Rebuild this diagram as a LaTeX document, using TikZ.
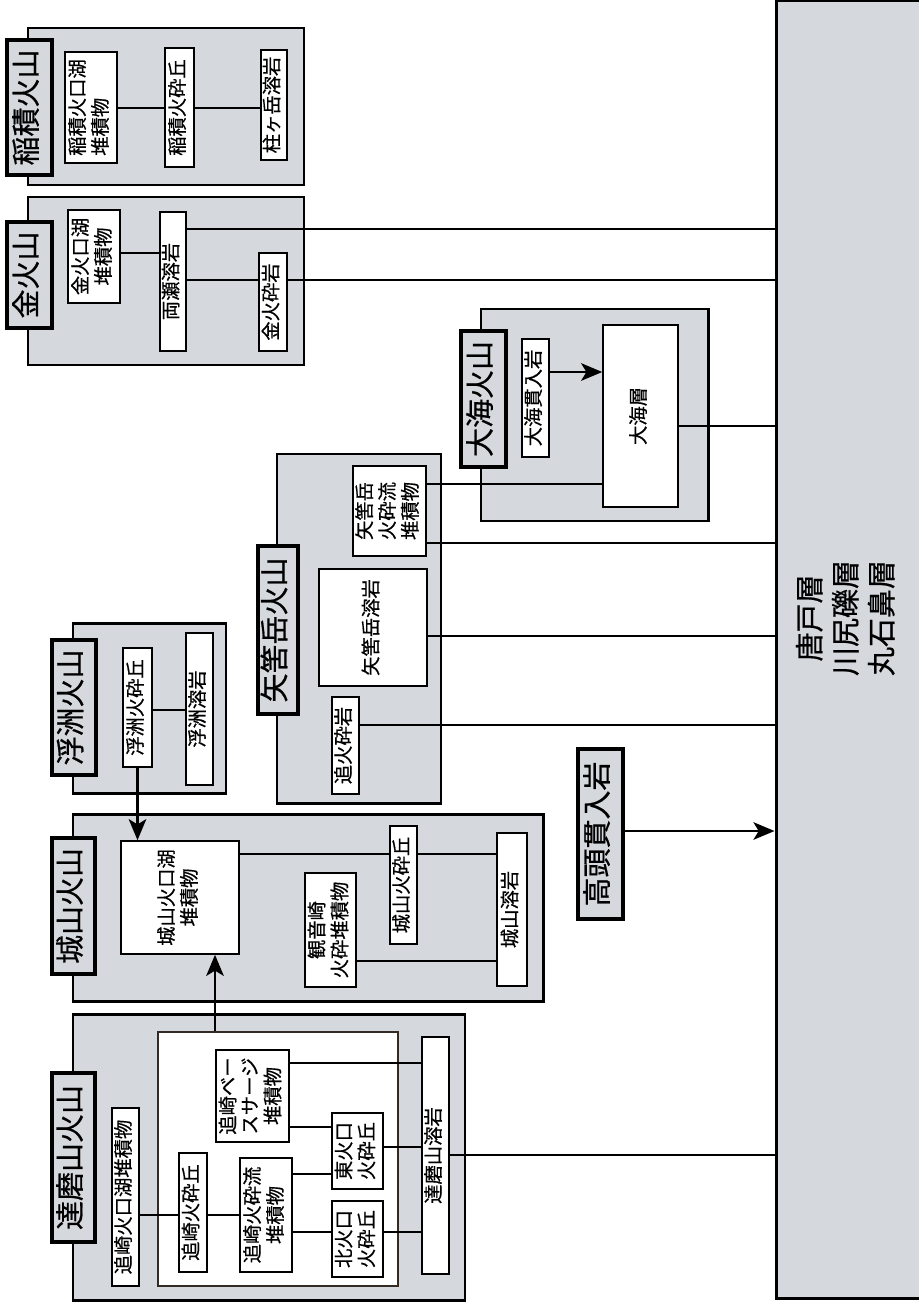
\documentclass[tikz,border=0pt]{standalone}
\usepackage{fontspec}
\setmainfont{Noto Sans CJK JP}[FakeBold=0.6]
\usetikzlibrary{arrows.meta}
\definecolor{volgray}{RGB}{213,216,221}
\definecolor{innerline}{RGB}{52,42,36}
\newcommand{\vt}[2][c]{\rotatebox{90}{\begin{tabular}{@{}#1@{}}#2\end{tabular}}}

\begin{document}
\begin{tikzpicture}[x=0.02cm, y=-0.02cm,
    sz/.style 2 args={minimum width=#1*0.02cm, minimum height=#2*0.02cm},
    volbox/.style={draw, line width=1.7pt, fill=volgray, inner sep=0pt},
    volname/.style={draw, line width=2pt, fill=volgray, inner sep=0pt,
        font=\fontsize{16.5}{20}\selectfont},
    unit/.style={draw, line width=0.9pt, fill=white, inner sep=0pt,
        font=\fontsize{11}{12.5}\selectfont},
    groupbox/.style={draw=innerline, line width=1.3pt, fill=white, inner sep=0pt},
    basebox/.style={draw, line width=1.7pt, fill=volgray, inner sep=0pt},
    link/.style={line width=1.3pt},
    arr/.style={link, -{Stealth[length=12pt, width=10pt, inset=3pt]}}
  ]
  \useasboundingbox (0,0) rectangle (919,1308);
  \node[basebox, sz={164}{1297}] (base) at (858,649.5) {};
  \node[font=\fontsize{16.5}{20.5}\selectfont] (baseText) at (849,618)
  {\vt{唐戸層\\川尻礫層\\丸石鼻層}};
  \node[volbox, sz={276}{157}] (inaO) at (166,106.5) {};
  \node[volname, sz={45}{135}] (inaL) at (29.5,107.5) {\vt{稲積火山}};
  \node[unit, sz={52}{111}] (inaKo) at (91,107.5) {\vt[l]{稲積火口湖\\堆積物}};
  \node[unit, sz={29}{119}] (inaSc) at (179.5,107.5) {\vt{稲積火砕丘}};
  \node[unit, sz={26}{110}] (hashira) at (274,105) {\vt{柱ヶ岳溶岩}};
  \draw[link] (inaKo.east |- 0,108) -- (inaSc.west |- 0,108);
  \draw[link] (inaSc.east |- 0,108) -- (hashira.west |- 0,108);
  \node[volbox, sz={276}{168}] (kinO) at (166,281) {};
  \node[volname, sz={45}{106}] (kinL) at (29.5,275) {\vt{金火山}};
  \node[unit, sz={52}{93}] (kinKo) at (94,256.5) {\vt{金火口湖\\堆積物}};
  \node[unit, sz={26}{139}] (ryose) at (173,281.5) {\vt{両瀬溶岩}};
  \node[unit, sz={28}{98}] (kinSg) at (273,302) {\vt{金火砕岩}};
  \draw[link] (kinKo.east |- 0,253) -- (ryose.west |- 0,253);
  \draw[link] (ryose.east |- 0,229) -- (base.west |- 0,229);
  \draw[link] (ryose.east |- 0,280) -- (kinSg.west |- 0,280);
  \draw[link] (kinSg.east |- 0,280) -- (base.west |- 0,280);
  \node[volbox, sz={227}{212}] (omiO) at (594.5,415) {};
  \node[volname, sz={45}{136}] (omiL) at (483.5,399) {\vt{大海火山}};
  \node[unit, sz={27}{118}] (omiKan) at (535.5,398) {\vt{大海貫入岩}};
  \node[unit, sz={75}{182}] (omiSo) at (640.5,416) {\vt{大海層}};
  \draw[arr] (omiKan.east |- 0,372) -- (omiSo.west |- 0,372);
  \draw[link] (omiSo.east |- 0,426) -- (base.west |- 0,426);
  \node[volbox, sz={164}{349}] (yaO) at (359,628.5) {};
  \node[volname, sz={40}{168}] (yaL) at (278,630) {\vt{矢筈岳火山}};
  \node[unit, sz={73}{90}] (yaPf) at (389.5,511) {\vt{矢筈岳\\火砕流\\堆積物}};
  \node[unit, sz={108}{117}] (yaLava) at (373,627.5) {\vt{矢筈岳溶岩}};
  \node[unit, sz={27}{97}] (oiSg) at (345.5,745.5) {\vt{追火砕岩}};
  \draw[link] (yaPf.east |- 0,484) -- (omiSo.west |- 0,484);
  \draw[link] (yaPf.east |- 0,543) -- (base.west |- 0,543);
  \draw[link] (yaLava.east |- 0,636) -- (base.west |- 0,636);
  \draw[link] (oiSg.east |- 0,725) -- (base.west |- 0,725);
  \node[volbox, sz={153}{170}] (ukiO) at (149.5,708) {};
  \node[volname, sz={44}{135}] (ukiL) at (74,707.5) {\vt{浮洲火山}};
  \node[unit, sz={29}{119}] (ukiSc) at (137.5,707.5) {\vt{浮洲火砕丘}};
  \node[unit, sz={27}{152}] (ukiLava) at (199.5,709) {\vt{浮洲溶岩}};
  \draw[link] (ukiSc.east |- 0,710) -- (ukiLava.west |- 0,710);
  \node[volname, sz={45}{170}] (takato) at (600.5,834) {\vt{高頭貫入岩}};
  \draw[arr] (takato.east |- 0,831) -- (base.west |- 0,831);
  \node[volbox, sz={470}{187}] (joO) at (308,907.5) {};
  \node[volname, sz={43}{136}] (joL) at (73.5,906) {\vt{城山火山}};
  \node[unit, sz={118}{113}] (joKo) at (180,897.5) {\vt{城山火口湖\\堆積物}};
  \node[unit, sz={27}{118}] (joSc) at (403.5,885) {\vt{城山火砕丘}};
  \node[unit, sz={30}{153}] (joLava) at (512,909.5) {\vt{城山溶岩}};
  \node[unit, sz={51}{114}] (kannon) at (330.5,930) {\vt{観音崎\\火砕堆積物}};
  \draw[link] (joKo.east |- 0,854) -- (joSc.west |- 0,854);
  \draw[link] (joSc.east |- 0,854) -- (joLava.west |- 0,854);
  \draw[link] (kannon.east |- 0,961) -- (joLava.west |- 0,961);
  \draw[arr] (ukiSc.south) -- (ukiSc.south |- joKo.north);
  \node[volbox, sz={392}{286}] (daO) at (269,1157) {};
  \node[volname, sz={43}{169}] (daL) at (73.5,1157.5) {\vt{達磨山火山}};
  \node[unit, sz={27}{178}] (oiKo) at (125.5,1197) {\vt{追崎火口湖堆積物}};
  \node[groupbox, sz={240}{254}] (daIn) at (278,1159) {};
  \node[unit, sz={28}{119}] (oiSc) at (193,1212.5) {\vt{追崎火砕丘}};
  \node[unit, sz={52}{114}] (oiPf) at (266,1215) {\vt{追崎火砕流\\堆積物}};
  \node[unit, sz={73}{92}] (oiBs) at (252.5,1096) {\vt{追崎ベー\\スサージ\\堆積物}};
  \node[unit, sz={51}{76}] (higashi) at (357.5,1151) {\vt{東火口\\火砕丘}};
  \node[unit, sz={51}{76}] (kita) at (357.5,1239) {\vt{北火口\\火砕丘}};
  \node[unit, sz={27}{237}] (daLava) at (435.5,1155.5) {\vt{達磨山溶岩}};
  \draw[link] (oiKo.east |- 0,1215) -- (oiSc.west |- 0,1215);
  \draw[link] (oiSc.east |- 0,1215) -- (oiPf.west |- 0,1215);
  \draw[link] (oiBs.east |- 0,1063) -- (daLava.west |- 0,1063);
  \draw[link] (oiBs.east |- 0,1127) -- (higashi.west |- 0,1127);
  \draw[link] (oiPf.east |- 0,1174) -- (higashi.west |- 0,1174);
  \draw[link] (oiPf.east |- 0,1232) -- (kita.west |- 0,1232);
  \draw[link] (higashi.east |- 0,1147) -- (daLava.west |- 0,1147);
  \draw[link] (kita.east |- 0,1232) -- (daLava.west |- 0,1232);
  \draw[link] (daLava.east |- 0,1155) -- (base.west |- 0,1155);
  \draw[arr] (daIn.north -| 215,0) -- (joKo.south -| 215,0);
\end{tikzpicture}
\end{document}
